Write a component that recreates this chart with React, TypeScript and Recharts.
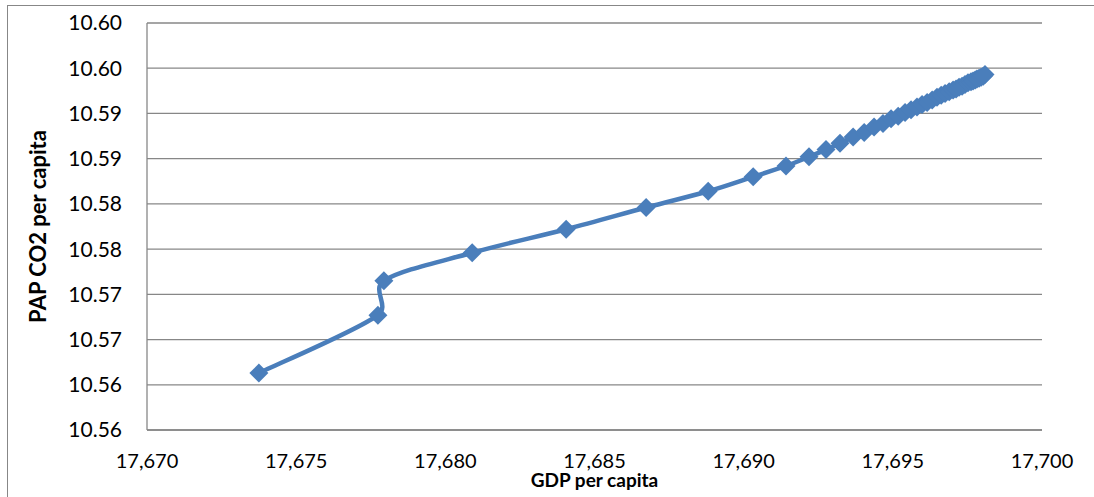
import * as React from 'react';
import { ScatterChart, Scatter, XAxis, YAxis, CartesianGrid, Label } from 'recharts';

const LINE_COLOR = '#4A7EBB';
const GRID_COLOR = '#878787';
const FONT = 'Lato, "Open Sans", sans-serif';

// GDP per capita (x) and PAP CO2 per capita (y)
const gdp = [
  17673.75, 17677.74, 17677.94, 17680.9, 17684.05, 17686.73, 17688.81, 17690.32,
  17691.42, 17692.19, 17692.76, 17693.23, 17693.67, 17694.04, 17694.37, 17694.67,
  17694.94, 17695.18, 17695.41, 17695.61, 17695.81, 17695.98, 17696.15, 17696.32,
  17696.48, 17696.62, 17696.75, 17696.89, 17697.02, 17697.12, 17697.22, 17697.32,
  17697.42, 17697.52, 17697.62, 17697.69, 17697.76, 17697.82, 17697.89, 17697.96,
  17698.03, 17698.09
];
const co2 = [
  10.5613, 10.5677, 10.5715, 10.5746, 10.5772, 10.5796, 10.5814, 10.583,
  10.5842, 10.5852, 10.586, 10.5867, 10.5874, 10.5879, 10.5885, 10.5889,
  10.5894, 10.5897, 10.5901, 10.5904, 10.5907, 10.591, 10.5912, 10.5915,
  10.5918, 10.592, 10.5922, 10.5924, 10.5926, 10.5927, 10.5929, 10.593,
  10.5932, 10.5934, 10.5935, 10.5936, 10.5937, 10.5938, 10.5939, 10.594,
  10.5941, 10.5943
];

const xTicks = [17670, 17675, 17680, 17685, 17690, 17695, 17700];
const yTicks = [10.555, 10.56, 10.565, 10.57, 10.575, 10.58, 10.585, 10.59, 10.595, 10.6];
const yTickLabels = ['10.56', '10.56', '10.57', '10.57', '10.58', '10.58', '10.59', '10.59', '10.60', '10.60'];

const data = gdp.map((x, i) => ({ x, y: co2[i] }));

// Excel-style smoothed line: cubic bezier, handles = 1/6 of the neighbour chord
const excelSmooth = (context: any) => {
  let pts: [number, number][] = [];
  const flush = () => {
    const n = pts.length;
    if (!n) return;
    context.moveTo(pts[0][0], pts[0][1]);
    for (let i = 0; i < n - 1; i++) {
      const p0 = pts[Math.max(i - 1, 0)];
      const p1 = pts[i];
      const p2 = pts[i + 1];
      const p3 = pts[Math.min(i + 2, n - 1)];
      const seg = Math.hypot(p2[0] - p1[0], p2[1] - p1[1]);
      let t1x = (p2[0] - p0[0]) / 6;
      let t1y = (p2[1] - p0[1]) / 6;
      let t2x = (p3[0] - p1[0]) / 6;
      let t2y = (p3[1] - p1[1]) / 6;
      const l1 = Math.hypot(t1x, t1y);
      const l2 = Math.hypot(t2x, t2y);
      const lim = seg * 0.45;
      if (l1 > lim) { t1x *= lim / l1; t1y *= lim / l1; }
      if (l2 > lim) { t2x *= lim / l2; t2y *= lim / l2; }
      context.bezierCurveTo(p1[0] + t1x, p1[1] + t1y, p2[0] - t2x, p2[1] - t2y, p2[0], p2[1]);
    }
  };
  return {
    areaStart() {},
    areaEnd() {},
    lineStart() { pts = []; },
    lineEnd() { flush(); },
    point(x: number, y: number) { pts.push([+x, +y]); }
  };
};

const Diamond = (props: any) => {
  const { cx, cy } = props;
  const r = 9.5;
  return (
    <path
      d={`M${cx},${cy - r}L${cx + r},${cy}L${cx},${cy + r}L${cx - r},${cy}Z`}
      fill={LINE_COLOR}
    />
  );
};

export default function App() {
  return (
    <div
      style={{
        position: 'absolute',
        left: 0,
        top: 0,
        width: 1094,
        height: 497,
        overflow: 'hidden',
        background: '#fff'
      }}
    >
      <div
        style={{
          position: 'absolute',
          left: 7,
          top: 5,
          width: 1200,
          height: 600,
          border: `1px solid ${GRID_COLOR}`
        }}
      />
      <div style={{ position: 'absolute', left: 0, top: 0 }}>
        <ScatterChart
          width={1094}
          height={497}
          margin={{ top: 23, right: 52, bottom: 0, left: 0 }}
        >
          <CartesianGrid vertical={false} stroke={GRID_COLOR} strokeWidth={1.3} />
          <XAxis
            type="number"
            dataKey="x"
            domain={[17670, 17700]}
            ticks={xTicks}
            height={67}
            tickSize={0}
            tickMargin={24}
            tickFormatter={(v: number) => v.toLocaleString('en-US')}
            axisLine={{ stroke: GRID_COLOR, strokeWidth: 1.3 }}
            tick={{ fill: '#000', fontSize: 20, fontFamily: FONT }}
            allowDataOverflow
          >
            <Label
              value="GDP per capita"
              position="center"
              dy={17}
              style={{ fill: '#000', fontSize: 19, fontWeight: 700, fontFamily: FONT }}
            />
          </XAxis>
          <YAxis
            type="number"
            dataKey="y"
            domain={[10.555, 10.6]}
            ticks={yTicks}
            width={147}
            tickSize={0}
            tickMargin={25}
            tickFormatter={(v: number) => yTickLabels[yTicks.indexOf(v)] ?? v.toFixed(2)}
            axisLine={{ stroke: GRID_COLOR, strokeWidth: 1.3 }}
            tick={{ fill: '#000', fontSize: 21, fontFamily: FONT }}
            allowDataOverflow
          >
            <Label
              value="PAP CO2 per capita"
              position="center"
              angle={-90}
              dx={-35}
              style={{ fill: '#000', fontSize: 22, fontWeight: 700, fontFamily: FONT }}
            />
          </YAxis>
          <Scatter
            data={data}
            line={{ stroke: LINE_COLOR, strokeWidth: 4.5 }}
            lineJointType={excelSmooth as any}
            shape={Diamond}
            isAnimationActive={false}
          />
        </ScatterChart>
      </div>
    </div>
  );
}
